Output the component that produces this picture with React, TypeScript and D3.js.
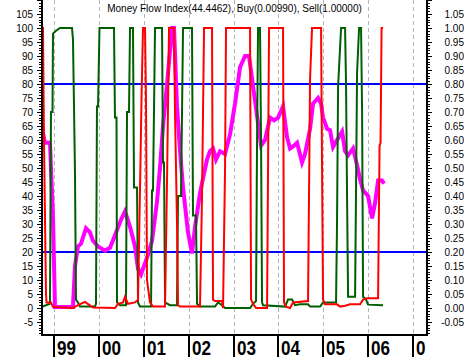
import React from 'react';
import * as d3 from 'd3';

// ---------- data (decimal year, value) ----------
const mfi: [number, number][] = [
  [1998.733, 66.4], [1998.755, 62.5], [1998.799, 59], [1998.911, 59], [1998.933, 50], [1998.978, 32.5],
  [1999.022, 0.4], [1999.423, 0.4], [1999.468, 15], [1999.535, 22], [1999.602, 23], [1999.713, 28.5],
  [1999.802, 27], [1999.869, 24], [1999.981, 22], [2000.136, 20.5], [2000.248, 21.5], [2000.359, 26],
  [2000.493, 31.5], [2000.582, 34.5], [2000.694, 29], [2000.805, 22], [2000.872, 14], [2000.939, 12],
  [2001.006, 15], [2001.095, 19], [2001.184, 24], [2001.295, 38], [2001.362, 50], [2001.429, 65],
  [2001.518, 80], [2001.630, 100], [2001.674, 100], [2001.741, 72], [2001.808, 56], [2001.875, 43],
  [2001.986, 27], [2002.075, 19.5], [2002.142, 29], [2002.253, 41], [2002.343, 48], [2002.409, 53],
  [2002.476, 56], [2002.543, 57], [2002.610, 53], [2002.699, 56], [2002.811, 55], [2002.922, 62],
  [2003.033, 73], [2003.145, 86], [2003.256, 90], [2003.345, 90], [2003.412, 82], [2003.479, 74],
  [2003.546, 66], [2003.613, 58], [2003.702, 60], [2003.813, 68], [2003.902, 67], [2003.992, 68],
  [2004.103, 72], [2004.192, 61], [2004.259, 57], [2004.348, 58], [2004.415, 59], [2004.526, 52],
  [2004.593, 55], [2004.705, 64], [2004.772, 73], [2004.883, 75], [2004.950, 73], [2004.994, 68],
  [2005.084, 64], [2005.150, 63.5], [2005.217, 57.5], [2005.306, 60], [2005.418, 63], [2005.485, 56],
  [2005.552, 54.5], [2005.663, 57], [2005.752, 51], [2005.819, 46], [2005.886, 42], [2005.997, 40],
  [2006.086, 32], [2006.153, 37.5], [2006.220, 45.5], [2006.309, 45.5], [2006.354, 44.4462],
];

const buy: [number, number][] = [
  [1998.733, 0.004], [1998.822, 0.010], [1998.911, 0.015], [1998.933, 0.70], [1998.967, 0.70],
  [1998.978, 0.98], [1999.045, 0.99], [1999.134, 1.0], [1999.401, 1.0], [1999.423, 0.96],
  [1999.446, 0.72], [1999.468, 0.48], [1999.490, 0.03], [1999.535, 0.02], [1999.579, 0.005],
  [1999.914, 0.005], [1999.936, 0.015], [1999.958, 0.72], [1999.981, 0.72], [2000.014, 1.0],
  [2000.337, 1.0], [2000.359, 0.68], [2000.393, 0.68], [2000.404, 0.02], [2000.471, 0.01],
  [2000.604, 0.01], [2000.627, 0.70], [2000.671, 0.70], [2000.694, 1.0], [2000.760, 1.0],
  [2000.783, 0.43], [2000.850, 0.43], [2000.872, 0.02], [2000.916, 0.005], [2001.162, 0.005],
  [2001.184, 0.42], [2001.206, 0.42], [2001.251, 1.0], [2001.407, 1.0], [2001.429, 0.52],
  [2001.451, 0.52], [2001.474, 0.02], [2001.585, 0.01], [2001.741, 0.01], [2001.763, 0.40],
  [2001.830, 0.40], [2001.875, 1.0], [2002.075, 1.0], [2002.097, 0.33], [2002.164, 0.33],
  [2002.187, 0.015], [2002.253, 0.005], [2002.588, 0.005], [2002.655, 0.02], [2002.744, 0.01],
  [2002.811, 0.0], [2003.368, 0.0], [2003.434, 0.015], [2003.501, 0.025], [2003.524, 0.60],
  [2003.546, 1.0], [2003.590, 1.0], [2003.613, 0.60], [2003.635, 0.02], [2003.657, 0.01],
  [2004.148, 0.005], [2004.214, 0.03], [2004.304, 0.03], [2004.370, 0.01], [2004.482, 0.013],
  [2004.660, 0.013], [2004.705, 0.005], [2004.928, 0.005], [2004.994, 0.02], [2005.284, 0.02],
  [2005.306, 0.31], [2005.329, 0.79], [2005.396, 1.0], [2005.485, 1.0], [2005.507, 0.79],
  [2005.529, 0.40], [2005.552, 0.04], [2005.708, 0.04], [2005.752, 0.84], [2005.797, 1.0],
  [2005.841, 1.0], [2005.864, 0.70], [2005.886, 0.04], [2005.952, 0.03], [2005.997, 0.012],
  [2006.331, 0.0099],
];

const sell: [number, number][] = [
  [1998.733, 1.0], [1998.755, 1.0], [1998.777, 0.60], [1998.822, 0.05], [1998.833, 0.02],
  [1998.933, 0.02], [1998.978, 0.004], [1999.423, 0.0], [1999.535, 0.01], [1999.691, 0.022],
  [1999.869, 0.002], [2000.359, 0.0], [2000.426, 0.015], [2000.538, 0.02], [2000.582, 0.04],
  [2000.649, 0.015], [2000.805, 0.02], [2000.872, 0.03], [2000.928, 0.53], [2000.950, 0.75],
  [2000.983, 1.0], [2001.028, 1.0], [2001.050, 0.74], [2001.072, 0.10], [2001.139, 0.02],
  [2001.206, 0.005], [2001.474, 0.005], [2001.518, 0.45], [2001.563, 1.0], [2001.674, 1.0],
  [2001.696, 0.70], [2001.741, 0.30], [2001.763, 0.01], [2001.808, 0.005], [2002.253, 0.005],
  [2002.298, 0.40], [2002.343, 1.0], [2002.521, 1.0], [2002.543, 0.03], [2002.588, 0.025],
  [2002.744, 0.025], [2002.766, 0.0], [2002.811, 0.50], [2002.833, 1.0], [2003.368, 1.0],
  [2003.390, 0.03], [2003.434, 0.015], [2003.501, 0.0], [2003.747, 0.0], [2003.791, 1.0],
  [2004.103, 1.0], [2004.125, 0.02], [2004.170, 0.005], [2004.259, 0.0], [2004.326, 0.02],
  [2004.660, 0.025], [2004.705, 0.82], [2004.749, 1.0], [2004.950, 1.0], [2004.972, 0.50],
  [2004.994, 0.03], [2005.039, 0.013], [2005.306, 0.013], [2005.373, 0.005], [2005.485, 0.008],
  [2005.596, 0.013], [2005.819, 0.013], [2005.886, 0.03], [2005.975, 0.035], [2006.220, 0.035],
  [2006.253, 0.58], [2006.275, 0.59], [2006.298, 1.0], [2006.331, 1.0],
];

const years = [1999, 2000, 2001, 2002, 2003, 2004, 2005, 2006, 2007];
const leftLabels = [-5, 0, 5, 10, 15, 20, 25, 30, 35, 40, 45, 50, 55, 60, 65, 70, 75, 80, 85, 90, 95, 100, 105];
const rightLabels = [-0.05, 0, 0.05, 0.1, 0.15, 0.2, 0.25, 0.3, 0.35, 0.4, 0.45, 0.5, 0.55, 0.6, 0.65, 0.7, 0.75, 0.8, 0.85, 0.9, 0.95, 1.0, 1.05];
const bandLevels = [20, 80];
const title = 'Money Flow Index(44.4462), Buy(0.00990), Sell(1.00000)';

const W = 467;
const H = 357;
const L = 42, R = 427, T = 0, B = 335;
const FONT = 'Arial, "Liberation Sans", sans-serif';

export default function App() {
  const x = d3.scaleLinear().domain([1998.733, 2007.31]).range([L, R]);
  const y = d3.scaleLinear().domain([-9.64, 110]).range([B, T]);
  const yR = d3.scaleLinear().domain([-0.0964, 1.1]).range([B, T]);
  const lineL = d3.line<[number, number]>().x(d => x(d[0])).y(d => y(d[1]));
  const lineR = d3.line<[number, number]>().x(d => x(d[0])).y(d => yR(d[1]));

  const minorL = d3.range(-9, 111, 1);
  const minorR = d3.range(-9, 111, 1).map(v => v / 100);

  return (
    <svg width={W} height={H} style={{ position: 'absolute', left: 0, top: 0, background: '#fff' }}
      fontFamily={FONT}>
      <defs>
        <clipPath id="plotClip"><rect x={L} y={T} width={R - L} height={B - T} /></clipPath>
      </defs>
      <rect x={0} y={0} width={W} height={H} fill="#fff" />
      {/* vertical dashed grid */}
      {years.map(yr => {
        const px = Math.round(x(yr)) + 0.5;
        return <line key={'g' + yr} x1={px} x2={px} y1={T} y2={B} stroke="#b4b4b4" strokeWidth={1} strokeDasharray="4,3" />;
      })}
      {/* title */}
      <text x={(L + R) / 2} y={12} textAnchor="middle" fontSize={10} fill="#000">{title}</text>
      <g clipPath="url(#plotClip)">
        {bandLevels.map(b => (
          <line key={'b' + b} x1={L} x2={R} y1={y(b)} y2={y(b)} stroke="#0000ff" strokeWidth={2} />
        ))}
        <path d={lineL(mfi) || ''} fill="none" stroke="#ff00ff" strokeWidth={4} />
        <path d={lineR(buy) || ''} fill="none" stroke="#005f00" strokeWidth={2} />
        <path d={lineR(sell) || ''} fill="none" stroke="#ff0000" strokeWidth={2} />
      </g>
      {/* left axis */}
      <line x1={L} x2={L} y1={T} y2={B + 1} stroke="#000" strokeWidth={2} />
      {minorL.map(v => {
        const py = Math.round(y(v)) + 0.5;
        const major = v % 5 === 0;
        return <line key={'lt' + v} x1={L - (major ? 5 : 3)} x2={L} y1={py} y2={py} stroke="#000" strokeWidth={1} />;
      })}
      {leftLabels.map(v => (
        <text key={'ll' + v} x={33} y={y(v) + 3.5} textAnchor="end" fontSize={10} fill="#000">{v}</text>
      ))}
      {/* right axis */}
      <line x1={R} x2={R} y1={T} y2={B + 1} stroke="#000" strokeWidth={2} />
      {minorR.map((v, i) => {
        const py = Math.round(yR(v)) + 0.5;
        const major = (i - 9) % 5 === 0;
        return <line key={'rt' + i} x1={R} x2={R + (major ? 5 : 3)} y1={py} y2={py} stroke="#000" strokeWidth={1} />;
      })}
      {rightLabels.map(v => (
        <text key={'rl' + v} x={464} y={yR(v) + 3.5} textAnchor="end" fontSize={10} fill="#000">{v.toFixed(2)}</text>
      ))}
      {/* bottom axis */}
      <line x1={L - 1} x2={R + 1} y1={B} y2={B} stroke="#000" strokeWidth={2} />
      <clipPath id="xLabClip"><rect x={L} y={B} width={R - L - 1} height={H - B} /></clipPath>
      {years.map(yr => {
        const px = Math.round(x(yr));
        return (
          <g key={'xt' + yr}>
            <line x1={px} x2={px} y1={B} y2={H} stroke="#000" strokeWidth={2} />
            <g clipPath="url(#xLabClip)">
              <text x={px + 3} y={355} fontSize={20} fontWeight="bold" fill="#000"
                textLength={19} lengthAdjust="spacingAndGlyphs">{String(yr).slice(2)}</text>
            </g>
          </g>
        );
      })}
    </svg>
  );
}
